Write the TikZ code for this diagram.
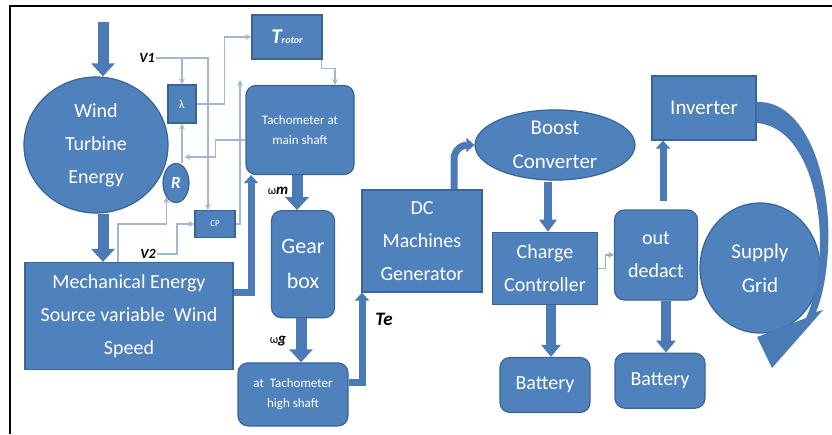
\documentclass[tikz,border=0pt]{standalone}
\usepackage{fontspec}
\setmainfont{Carlito}
\usetikzlibrary{positioning,arrows.meta,shapes.geometric}
\definecolor{bx}{HTML}{4F81BD}
\definecolor{bxd}{HTML}{3A6494}
\definecolor{ar}{HTML}{4A7BB7}
\definecolor{thin}{HTML}{A3B7D3}

\begin{document}
\begin{tikzpicture}[x=1pt,y=-1pt,>={Stealth[length=6pt,width=6pt]},node distance=6mm]
\tikzstyle{b}=[draw=bxd,fill=bx,line width=1.2pt,text=white,align=center,inner sep=1pt,font=\fontsize{20}{33}\selectfont]
\tikzstyle{rb}=[b,rounded corners=10pt]
\tikzstyle{el}=[b,ellipse]
\tikzstyle{sm}=[font=\fontsize{13}{20}\selectfont]
\tikzstyle{lbl}=[inner sep=1pt,font=\fontsize{14}{14}\selectfont\bfseries\itshape]
\tikzstyle{tl}=[draw=thin,line width=1.6pt,->]
\tikzstyle{ta}=[draw=ar,line width=11pt,-{Triangle[length=13pt,width=23pt]}]
\tikzstyle{tb}=[draw=ar,line width=7pt,-{Triangle[length=8pt,width=14pt]}]
\useasboundingbox (0,0) rectangle (832,434);
\draw[line width=1.5pt] (10,434) -- (10,6) -- (832,6);
% left part: turbine and shaft
\node[el,minimum width=144pt,minimum height=136pt] (wt) at (96,145) {Wind\\Turbine\\Energy};
\node[b,minimum width=208pt,minimum height=107pt] (mech) at (129,316) {Mechanical Energy\\Source variable~~Wind\\Speed};
\node[el,minimum width=26pt,minimum height=39pt,font=\fontsize{17}{17}\selectfont\bfseries\itshape] (R) at (176,183) {R};
\node[b,minimum width=28pt,minimum height=38pt,font=\fontsize{12}{12}\selectfont] (lam) at (182,104) {λ};
\node[b,minimum width=40pt,minimum height=27pt,font=\fontsize{9}{9}\selectfont] (cp) at (215,224) {CP};
\node[b,minimum width=70pt,minimum height=44pt] (trot) at (287,37) {{\fontsize{21}{21}\selectfont\bfseries\itshape T}{\fontsize{10}{10}\selectfont\bfseries\itshape rotor}};
\node[rb,sm,minimum width=108pt,minimum height=89pt] (tm) at (300,130) {Tachometer at\\main shaft};
\node[rb,minimum width=63pt,minimum height=107pt,font=\fontsize{22}{35}\selectfont,below=35pt of tm,xshift=3pt] (gb) {Gear\\box};
\node[rb,sm,minimum width=110pt,minimum height=63pt,below=44pt of gb,xshift=-10pt] (th) {at~~Tachometer\\high shaft};
% right part: electrical side
\node[b,minimum width=120pt,minimum height=102pt] (dc) at (422,241) {DC\\Machines\\Generator};
\node[el,minimum width=160pt,minimum height=64pt,font=\fontsize{21}{34}\selectfont] (bc) at (555,145) {Boost\\Converter};
\node[b,minimum width=105pt,minimum height=72pt,below=51pt of bc,xshift=-10pt] (cc) {Charge\\Controller};
\node[rb,minimum width=83pt,minimum height=90pt] (od) at (656,255) {out\\dedact};
\node[rb,minimum width=90pt,minimum height=55pt,below=52pt of cc] (bat1) {Battery};
\node[rb,minimum width=90pt,minimum height=55pt,below=52pt of od,xshift=4pt] (bat2) {Battery};
\node[b,minimum width=104pt,minimum height=64pt,font=\fontsize{21}{21}\selectfont] (inv) at (704,108) {Inverter};
\node[el,minimum width=120pt,minimum height=130pt,font=\fontsize{21}{34}\selectfont] (sg) at (760,268) {Supply\\Grid};
% labels
\node[lbl] (v1) at (147,58) {V1};
\node[lbl] (v2) at (148,254) {V2};
\node[inner sep=1pt] (wm) at (278,191) {{\fontsize{12}{12}\selectfont ω}{\fontsize{15}{15}\selectfont\bfseries\itshape m}};
\node[inner sep=1pt] (wg) at (278,341) {{\fontsize{12}{12}\selectfont ω}{\fontsize{15}{15}\selectfont\bfseries\itshape g}};
\node[lbl,font=\fontsize{19}{19}\selectfont\bfseries\itshape] (te) at (384,319) {Te};
\coordinate (wtop) at (103,22);
\coordinate (up) at (240,80);
% thin signal lines
\draw[tl] (v1.east) -- ++(52,0) coordinate (j1) -- (j1 |- cp.north);
\draw[tl] (lam.north |- j1) -- (lam.north);
\draw[tl] (lam.east) -- ++(28,0) |- (trot.west);
\draw[tl] ([xshift=-1]trot.south east) -- ++(0,9) -| ([xshift=35]tm.north);
\draw[tl] ([yshift=-10]tm.west) -- ++(-30,0) -- ++(0,17) -- ++(-31,0);
\draw[tl] (lam.south |- R.north) -- (lam.south);
\draw[tl] ([xshift=-11]mech.north) -- ++(0,-38) -| (R.south west);
\draw[tl] (v2.east) -- ++(20,0) |- (cp.west);
\draw[tl] (cp.east) -- (cp.east -| up) -- (up);
\draw[tl,draw=thin!80!gray,line width=1.2pt] (cc.east) -- ++(7,0) |- (od.west);
% thick flow arrows
\draw[ta] (wtop) -- (wtop |- wt.north);
\draw[ta] ([xshift=7]wt.south) -- ([xshift=-26]mech.north);
\draw[tb] ([yshift=24]mech.east) -| ([xshift=-49]tm.south);
\draw[ta] ([xshift=-3]tm.south) -- ([xshift=-6]gb.north);
\draw[ta] ([xshift=-2]gb.south) -- ([xshift=8]th.north);
\draw[tb] ([yshift=12]th.east) -| ([xshift=-60]dc.south);
\draw[tb] ([xshift=32]dc.north) -- ++(0,-30) .. controls +(0,-10) and +(-12,0) .. (bc.west);
\draw[tb,line width=8pt,-{Triangle[length=12pt,width=17pt]}] ([xshift=-7,yshift=-1]bc.south) -- ([xshift=3]cc.north);
\draw[ta,line width=10pt,-{Triangle[length=12pt,width=19pt]}] ([xshift=6]cc.south) -- ([xshift=6]bat1.north);
\draw[ta,line width=10pt,-{Triangle[length=12pt,width=19pt]}] ([xshift=10]od.south) -- ([xshift=6]bat2.north);
\draw[tb] ([xshift=7,yshift=8]od.north) -- ([xshift=-41]inv.south);
\fill[ar] ([yshift=6]inv.east) .. controls (805,100) and (832,175) .. (828,250)
  .. controls (826,282) and (821,300) .. (816,312) -- (823,310) -- (772,368) -- (757,337) -- (806,318)
  .. controls (815,298) and (820,272) .. (820,240) .. controls (819,180) and (797,126) .. ([yshift=-15]inv.east) -- cycle;
\end{tikzpicture}
\end{document}
